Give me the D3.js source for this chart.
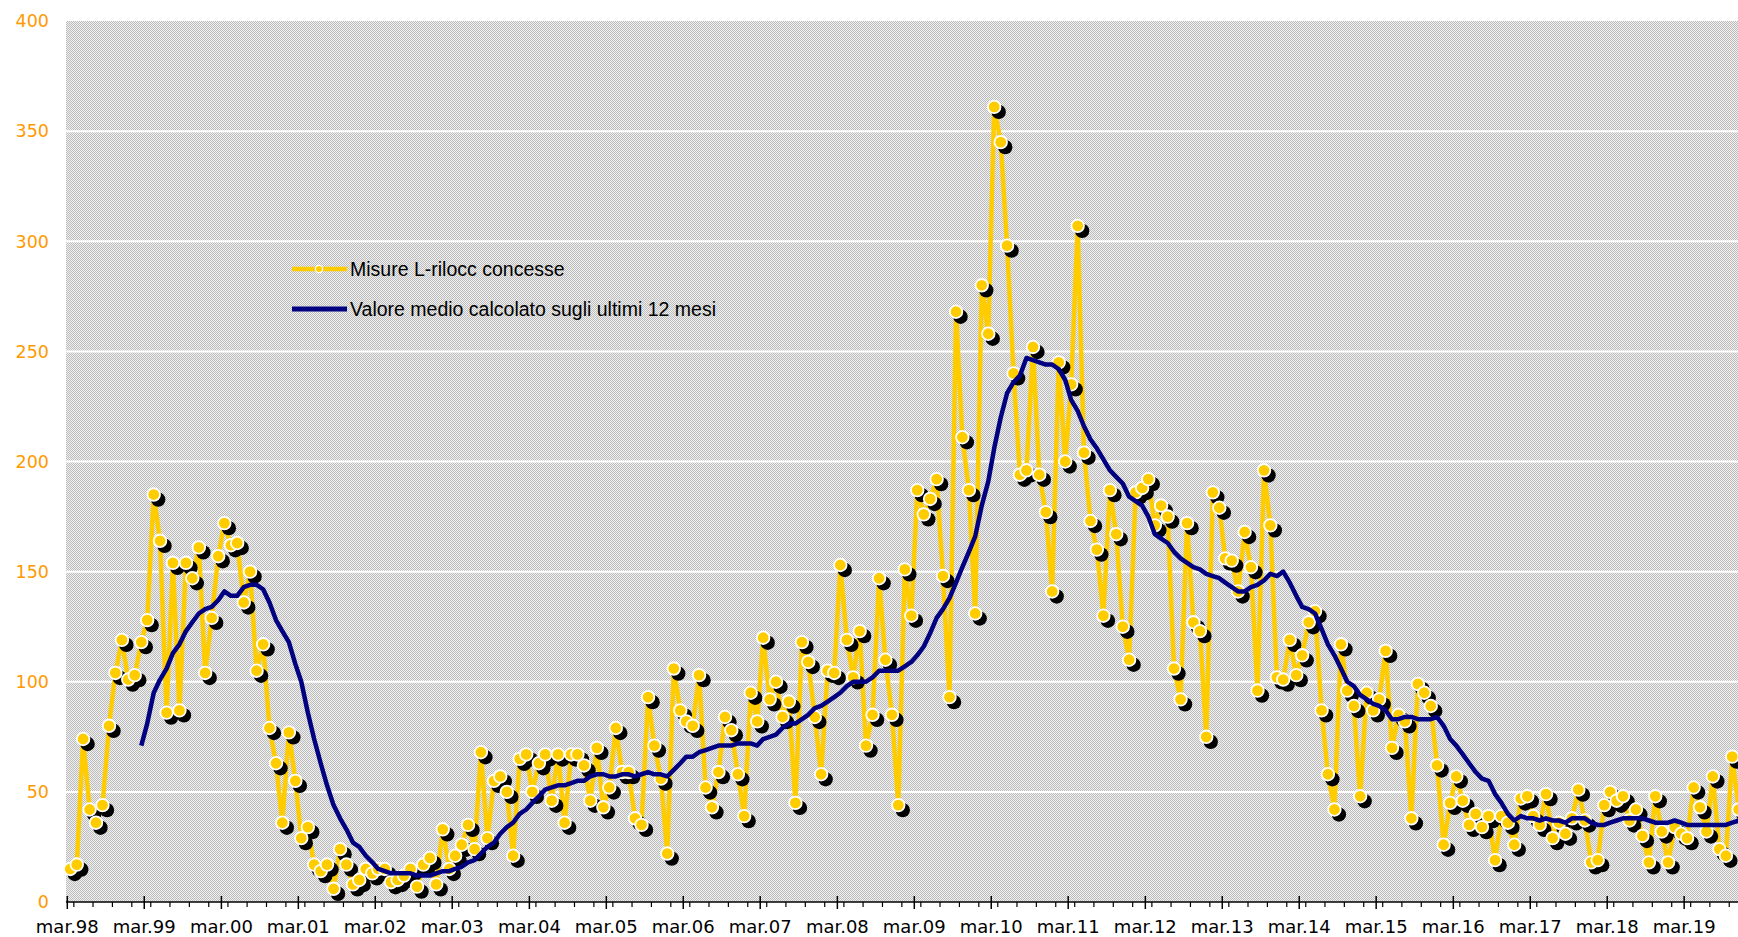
<!DOCTYPE html>
<html>
<head>
<meta charset="utf-8">
<title>Misure L-rilocc concesse</title>
<script src="https://d3js.org/d3.v7.min.js"></script>
<style>
body { margin:0; background:#ffffff; overflow:hidden; }
</style>
</head>
<body>
<script>
// primo mese della serie (metà mese)
var primoMese = new Date(1998, 2, 15);

// misure mensili concesse
var misure = [
 15,17,74,42,36,44,80,104,119,101,103,118,
 128,185,164,86,154,87,154,147,161,104,129,157,
 172,162,163,136,150,105,117,79,63,36,77,55,
 29,34,17,14,17,6,24,17,8,10,15,13,
 15,15,9,10,12,15,7,17,20,8,33,15,
 21,26,35,24,68,29,55,57,50,21,65,67,
 50,63,67,46,67,36,67,67,62,46,70,43,
 52,79,59,59,38,35,93,71,56,22,106,87,
 82,80,103,52,43,59,84,78,58,39,95,82,
 120,92,100,84,91,45,118,109,84,58,105,104,
 153,119,102,123,71,85,147,110,85,44,151,130,
 187,176,183,192,148,93,268,211,187,131,280,258,
 361,345,298,240,194,196,252,194,177,141,245,200,
 235,307,204,173,160,130,187,167,125,110,186,188,
 192,171,180,175,106,92,172,127,123,75,186,179,
 156,155,141,168,152,96,196,171,102,101,119,103,
 112,127,132,87,58,42,117,96,89,48,95,87,
 92,114,70,85,82,38,99,95,89,62,26,45,
 57,46,35,40,34,39,19,39,36,26,47,48,
 39,35,49,29,36,31,38,51,37,18,19,44,
 50,46,48,37,42,30,18,48,32,18,34,31,
 29,52,43,32,57,24,21,66,42,12
];

// media degli ultimi 12 mesi (dal 12° mese)
var inizioMedia = 11;
var media = [
 71,81,95,101,106,113,117,123,127,131,133,134,137,
 141,139,139,143,144,144,142,136,128,123,118,108,
 100,86,74,63,53,44,38,33,27,25,21,18,
 15,14,13,13,13,13,12,12,12,13,14,14,
 15,16,18,19,22,25,27,31,34,36,40,42,
 45,48,51,52,53,53,54,55,55,57,58,58,
 57,57,58,58,57,58,59,58,58,57,60,63,
 66,66,68,69,70,71,71,71,72,72,72,71,
 74,75,76,79,81,81,83,85,88,89,91,93,
 95,98,100,100,100,102,105,105,105,105,107,109,
 112,116,122,129,133,138,145,152,159,166,180,191,
 206,220,231,236,239,247,246,245,244,244,242,237,
 228,223,216,210,206,201,196,193,190,184,182,180,
 175,167,165,163,159,156,154,152,151,149,148,147,
 145,143,141,141,143,144,146,149,148,150,145,139,
 134,133,131,124,117,112,106,100,98,94,92,90,
 89,87,83,83,84,84,83,83,83,84,80,74,
 71,67,63,59,56,55,49,45,40,37,39,38,
 38,37,38,37,37,36,38,38,38,36,35,35,
 36,37,38,38,38,38,37,36,36,36,37,36,
 35,35,35,35,35,35,35,36,37
];

var yTicks = [0, 50, 100, 150, 200, 250, 300, 350, 400];
var etichetteX = ["mar.98","mar.99","mar.00","mar.01","mar.02","mar.03","mar.04","mar.05",
  "mar.06","mar.07","mar.08","mar.09","mar.10","mar.11","mar.12","mar.13","mar.14",
  "mar.15","mar.16","mar.17","mar.18","mar.19"];
var legenda = ["Misure L-rilocc concesse", "Valore medio calcolato sugli ultimi 12 mesi"];

var W = 1738, H = 937;
var sx = 66, top0 = 21, bottom0 = 902;

var mesi = misure.map(function(d, i){ return d3.timeMonth.offset(primoMese, i); });

var x = d3.scaleTime()
  .domain([new Date(1998, 2, 1), new Date(2020, 2, 1)])
  .range([67.3, 67.3 + 22 * 77.0]);
var y = d3.scaleLinear().domain([0, 400]).range([bottom0, top0]);

var svg = d3.select("body").append("svg")
  .attr("width", W).attr("height", H);

// sfondo retinato
var pat = svg.append("defs").append("pattern")
  .attr("id", "retino").attr("patternUnits", "userSpaceOnUse")
  .attr("width", 2).attr("height", 2);
pat.append("rect").attr("width", 2).attr("height", 2).attr("fill", "#f0f0f0");
pat.append("rect").attr("width", 1).attr("height", 1).attr("fill", "#bcbcbc");
pat.append("rect").attr("x", 1).attr("y", 1).attr("width", 1).attr("height", 1).attr("fill", "#bcbcbc");

svg.append("rect")
  .attr("x", sx).attr("y", top0)
  .attr("width", W - sx).attr("height", bottom0 - top0)
  .attr("fill", "url(#retino)")
  .attr("shape-rendering", "crispEdges");

// griglia
svg.selectAll(".griglia")
  .data(yTicks.filter(function(d){ return d > 0 && d < 400; }))
  .enter().append("line")
  .attr("x1", sx).attr("x2", W)
  .attr("y1", function(d){ return y(d); })
  .attr("y2", function(d){ return y(d); })
  .attr("stroke", "#ffffff").attr("stroke-width", 2);

// serie gialla
var linea = d3.line()
  .x(function(d, i){ return x(mesi[i]); })
  .y(function(d){ return y(d); });

svg.append("path").datum(misure)
  .attr("d", linea)
  .attr("fill", "none")
  .attr("stroke", "#ffcc00")
  .attr("stroke-width", 4.5)
  .attr("stroke-linejoin", "round");

svg.selectAll(".ombra").data(misure).enter().append("circle")
  .attr("cx", function(d, i){ return x(mesi[i]) + 4.5; })
  .attr("cy", function(d){ return y(d) + 5; })
  .attr("r", 7.2)
  .attr("fill", "#000000");

svg.selectAll(".punto").data(misure).enter().append("circle")
  .attr("cx", function(d, i){ return x(mesi[i]); })
  .attr("cy", function(d){ return y(d); })
  .attr("r", 6.3)
  .attr("fill", "#ffcc00")
  .attr("stroke", "#ffffff")
  .attr("stroke-width", 1.8);

// media mobile
var lineaMedia = d3.line()
  .x(function(d, i){ return x(mesi[i + inizioMedia]); })
  .y(function(d){ return y(d); });

svg.append("path").datum(media)
  .attr("d", lineaMedia)
  .attr("fill", "none")
  .attr("stroke", "#000080")
  .attr("stroke-width", 4.5)
  .attr("stroke-linejoin", "round");

// asse x
var anniTick = etichetteX.map(function(d, k){ return new Date(1998 + k, 2, 1); });
var trimestri = d3.timeMonth.every(3).range(new Date(1998, 2, 1), new Date(2020, 0, 1));

svg.append("line")
  .attr("x1", sx).attr("x2", W)
  .attr("y1", bottom0).attr("y2", bottom0)
  .attr("stroke", "#000000").attr("stroke-width", 1.5);

svg.selectAll(".minor").data(trimestri).enter().append("line")
  .attr("x1", function(d){ return x(d); }).attr("x2", function(d){ return x(d); })
  .attr("y1", bottom0).attr("y2", bottom0 + 5)
  .attr("stroke", "#000000").attr("stroke-width", 1.2);

svg.selectAll(".major").data(anniTick).enter().append("line")
  .attr("x1", function(d){ return x(d); }).attr("x2", function(d){ return x(d); })
  .attr("y1", bottom0 - 6).attr("y2", bottom0 + 7)
  .attr("stroke", "#000000").attr("stroke-width", 1.5);

svg.selectAll(".etx").data(etichetteX).enter().append("text")
  .attr("x", function(d, k){ return x(anniTick[k]); })
  .attr("y", 933)
  .attr("text-anchor", "middle")
  .attr("font-family", "'DejaVu Sans', Verdana, sans-serif")
  .attr("font-size", 18)
  .attr("fill", "#000000")
  .text(function(d){ return d; });

// asse y
svg.selectAll(".ety").data(yTicks).enter().append("text")
  .attr("x", 49)
  .attr("y", function(d){ return y(d); })
  .attr("dy", "0.36em")
  .attr("text-anchor", "end")
  .attr("font-family", "'DejaVu Sans', Verdana, sans-serif")
  .attr("font-size", 17.5)
  .attr("fill", "#ff9900")
  .text(function(d){ return d; });

// legenda
var leg = svg.append("g").attr("font-family", "'Liberation Sans', Arial, sans-serif")
  .attr("font-size", 19.5).attr("fill", "#000000");

leg.append("line").attr("x1", 292).attr("x2", 347).attr("y1", 269).attr("y2", 269)
  .attr("stroke", "#ffcc00").attr("stroke-width", 4.5);
leg.append("circle").attr("cx", 319).attr("cy", 269).attr("r", 3.6)
  .attr("fill", "#ffcc00").attr("stroke", "#ffffff").attr("stroke-width", 1.3);
leg.append("text").attr("x", 350).attr("y", 269).attr("dy", "0.35em").text(legenda[0]);

leg.append("line").attr("x1", 292).attr("x2", 347).attr("y1", 309).attr("y2", 309)
  .attr("stroke", "#000080").attr("stroke-width", 5);
leg.append("text").attr("x", 350).attr("y", 309).attr("dy", "0.35em").text(legenda[1]);
</script>
</body>
</html>
